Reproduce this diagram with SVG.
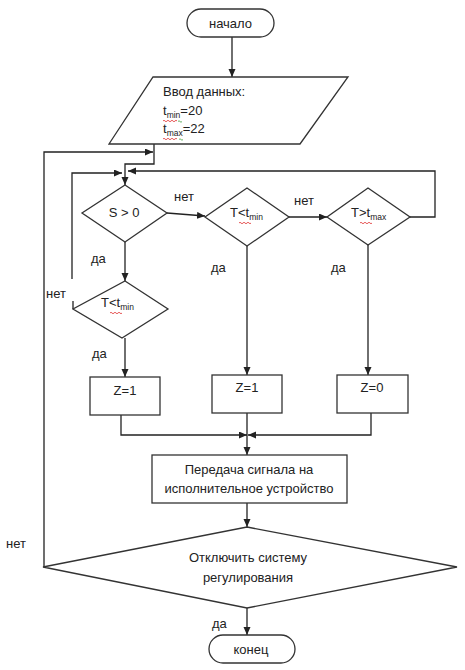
<svg xmlns="http://www.w3.org/2000/svg" width="465" height="670" viewBox="0 0 465 670">
<style>
.s{fill:#fff;stroke:#333;stroke-width:1.3}
.c{fill:none;stroke:#222;stroke-width:1.3}
.t{font-family:"Liberation Sans",Arial,sans-serif;font-size:13px;fill:#222}
.m{text-anchor:middle}
.sub{font-size:8.5px}
.sq{fill:none;stroke:#e03030;stroke-width:0.8}
.sg{fill:none;stroke:#40a040;stroke-width:0.8}
</style>
<defs>
<marker id="a" markerUnits="userSpaceOnUse" markerWidth="9" markerHeight="8" refX="8" refY="3.5" orient="auto">
<path d="M0,0 L8,3.5 L0,7 z" fill="#222"/>
</marker>
</defs>
<g id="connectors">
<path class="c" d="M232,37 V77" marker-end="url(#a)"/>
<path class="c" d="M154,144 V164 H125 V185" marker-end="url(#a)"/>
<path class="c" d="M44,567 V152 H153" marker-end="url(#a)"/>
<path class="c" d="M73,309 V301"/>
<path class="c" d="M72,279 V173 H122" marker-end="url(#a)"/>
<path class="c" d="M410,217 H435 V171 H128" marker-end="url(#a)"/>
<path class="c" d="M167,213 L205,216" marker-end="url(#a)"/>
<path class="c" d="M289,217 H327" marker-end="url(#a)"/>
<path class="c" d="M125,242 V281" marker-end="url(#a)"/>
<path class="c" d="M125,338 V377" marker-end="url(#a)"/>
<path class="c" d="M247,246 V375" marker-end="url(#a)"/>
<path class="c" d="M368,245 V375" marker-end="url(#a)"/>
<path class="c" d="M121,415 V435 H247" marker-end="url(#a)"/>
<path class="c" d="M371,413 V435 H248" marker-end="url(#a)"/>
<path class="c" d="M247,413 V455" marker-end="url(#a)"/>
<path class="c" d="M247,503 V527" marker-end="url(#a)"/>
<path class="c" d="M247,608 V635" marker-end="url(#a)"/>
<text class="t" x="174" y="201">нет</text>
<text class="t" x="294" y="205">нет</text>
<text class="t" x="91" y="263">да</text>
<text class="t" x="211" y="272">да</text>
<text class="t" x="331" y="272">да</text>
<text class="t" x="46" y="298">нет</text>
<text class="t" x="92" y="358">да</text>
<text class="t" x="6" y="548">нет</text>
<text class="t" x="212" y="628">да</text>
</g>
<g id="start">
<rect class="s" x="187" y="9" width="87" height="28" rx="14"/>
<text class="t m" x="230.5" y="28">начало</text>
</g>
<g id="input">
<polygon class="s" points="153,77 348,77 300,144 109,144"/>
<text class="t" x="163" y="96">Ввод  данных:</text>
<text class="t" x="163" y="115">t<tspan class="sub" dy="3">min</tspan><tspan dy="-3">=20</tspan></text>
<text class="t" x="163" y="133">t<tspan class="sub" dy="3">max</tspan><tspan dy="-3">=22</tspan></text>
<path class="sq" d="M163,121 q1,-1.5 2,0 t2,0 t2,0 t2,0 t2,0 t2,0 t2,0"/>
<path class="sg" d="M178,121.5 q1,-1.5 2,0 t2,0"/>
<path class="sq" d="M163,139 q1,-1.5 2,0 t2,0 t2,0 t2,0 t2,0 t2,0 t2,0"/>
<path class="sg" d="M179,139.5 q1,-1.5 2,0 t2,0"/>
</g>
<g id="d1">
<polygon class="s" points="125,185 167,213 125,242 82,213"/>
<text class="t m" x="124" y="217">S &gt; 0</text>
</g>
<g id="d2">
<polygon class="s" points="247,188 289,217 247,246 205,217"/>
<text class="t" x="230" y="217">T&lt;t<tspan class="sub" dy="3">min</tspan></text>
<path class="sq" d="M239,223 q1,-1.5 2,0 t2,0 t2,0 t2,0 t2,0 t2,0"/>
</g>
<g id="d3">
<polygon class="s" points="368,188 410,217 368,245 327,217"/>
<text class="t" x="351" y="217">T&gt;t<tspan class="sub" dy="3">max</tspan></text>
<path class="sq" d="M360,223 q1,-1.5 2,0 t2,0 t2,0 t2,0 t2,0 t2,0"/>
</g>
<g id="d4">
<polygon class="s" points="125,281 168,309 122,338 73,309"/>
<text class="t" x="101" y="307">T&lt;t<tspan class="sub" dy="3">min</tspan></text>
<path class="sq" d="M110,313 q1,-1.5 2,0 t2,0 t2,0 t2,0 t2,0 t2,0"/>
</g>
<g id="z1">
<rect class="s" x="90" y="377" width="70" height="38"/>
<text class="t m" x="125" y="395">Z=1</text>
</g>
<g id="z2">
<rect class="s" x="212" y="375" width="70" height="38"/>
<text class="t m" x="247" y="392">Z=1</text>
</g>
<g id="z3">
<rect class="s" x="337" y="375" width="71" height="38"/>
<text class="t m" x="372" y="392">Z=0</text>
</g>
<g id="process">
<rect class="s" x="152" y="455" width="195" height="48"/>
<text class="t m" x="249" y="474">Передача сигнала на</text>
<text class="t m" x="249" y="493">исполнительное устройство</text>
</g>
<g id="d5">
<polygon class="s" points="247,527 457,567 247,608 43,567"/>
<text class="t m" x="248" y="562">Отключить систему</text>
<text class="t m" x="248" y="582">регулирования</text>
</g>
<g id="end">
<rect class="s" x="209" y="635" width="86" height="28" rx="14"/>
<text class="t m" x="251" y="654">конец</text>
</g>
</svg>
